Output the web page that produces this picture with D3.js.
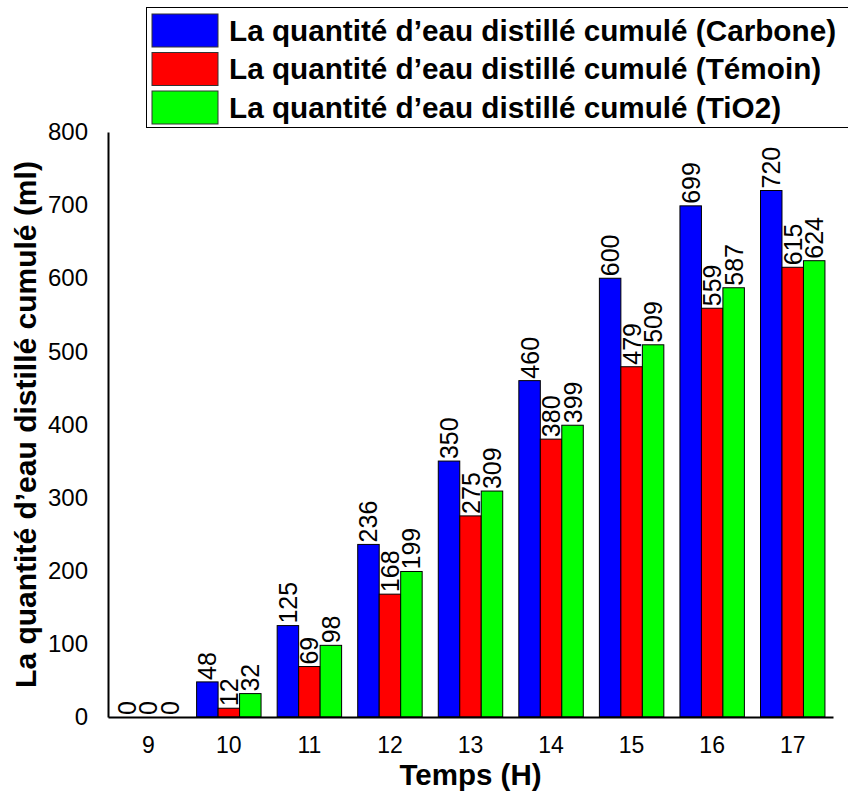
<!DOCTYPE html>
<html>
<head>
<meta charset="utf-8">
<script src="https://cdn.jsdelivr.net/npm/d3@7"></script>
<style>
  html, body { margin: 0; padding: 0; background: #fff; }
  svg { display: block; font-family: "Liberation Sans", Arial, sans-serif; }
</style>
</head>
<body>
<svg id="chart" width="848" height="792"></svg>
<script>
// Hours of the day (x categories)
const hours = ["9", "10", "11", "12", "13", "14", "15", "16", "17"];

// Cumulative distilled water (ml) for each configuration
const carbone = [0, 48, 125, 236, 350, 460, 600, 699, 720];
const temoin  = [0, 12, 69, 168, 275, 380, 479, 559, 615];
const tio2    = [0, 32, 98, 199, 309, 399, 509, 587, 624];

const seriesKeys = ["carbone", "temoin", "tio2"];
const seriesLabels = [
  "La quantité d’eau distillé cumulé (Carbone)",
  "La quantité d’eau distillé cumulé (Témoin)",
  "La quantité d’eau distillé cumulé (TiO2)"
];
const seriesColors = ["#0000ff", "#ff0000", "#00ff00"];
const yTicks = [0, 100, 200, 300, 400, 500, 600, 700, 800];

const table = hours.map((h, i) => ({
  hour: h,
  carbone: carbone[i],
  temoin: temoin[i],
  tio2: tio2[i]
}));

const svg = d3.select("#chart");
const plot = { left: 108, right: 833, top: 132, bottom: 717 };

const x = d3.scaleBand()
  .domain(hours)
  .range([plot.left, plot.right])
  .paddingInner(0.2)
  .paddingOuter(0.1);

const xSub = d3.scaleBand()
  .domain(seriesKeys)
  .range([0, x.bandwidth()]);

const y = d3.scaleLinear()
  .domain([0, 800])
  .range([plot.bottom, plot.top]);

const color = d3.scaleOrdinal().domain(seriesKeys).range(seriesColors);

// Bars
const groups = svg.append("g")
  .selectAll("g")
  .data(table)
  .join("g")
  .attr("transform", d => `translate(${x(d.hour)},0)`);

const cells = groups.selectAll("g")
  .data(d => seriesKeys.map(k => ({ key: k, value: d[k] })))
  .join("g");

cells.append("rect")
  .attr("x", d => xSub(d.key))
  .attr("y", d => y(d.value))
  .attr("width", xSub.bandwidth())
  .attr("height", d => y(0) - y(d.value))
  .attr("fill", d => color(d.key))
  .attr("stroke", "#000")
  .attr("stroke-width", 1);

// Value labels, rotated, sitting on top of each bar
cells.append("text")
  .attr("transform", d => {
    const cx = xSub(d.key) + xSub.bandwidth() / 2 + 9;
    const cy = y(d.value) - 2;
    return `translate(${cx},${cy}) rotate(-90)`;
  })
  .attr("text-anchor", "start")
  .attr("font-size", 25)
  .attr("fill", "#000")
  .text(d => d.value);

// Axes
const yAxis = d3.axisLeft(y).tickValues(yTicks).tickSize(0).tickPadding(20);
const gy = svg.append("g")
  .attr("transform", `translate(${plot.left},0)`)
  .call(yAxis);
gy.select(".domain").attr("stroke", "#000").attr("stroke-width", 2);
gy.selectAll("text").attr("font-size", 24).attr("fill", "#000")
  .attr("font-family", "Liberation Sans, Arial, sans-serif");

const xAxis = d3.axisBottom(x).tickSize(0).tickPadding(20);
const gx = svg.append("g")
  .attr("transform", `translate(0,${plot.bottom})`)
  .call(xAxis);
gx.select(".domain").attr("stroke", "#000").attr("stroke-width", 2);
gx.selectAll("text").attr("font-size", 23).attr("fill", "#000")
  .attr("font-family", "Liberation Sans, Arial, sans-serif");

// Axis titles
svg.append("text")
  .attr("x", (plot.left + plot.right) / 2)
  .attr("y", 785)
  .attr("text-anchor", "middle")
  .attr("font-size", 29.5)
  .attr("font-weight", "bold")
  .text("Temps (H)");

svg.append("text")
  .attr("transform", `translate(35.5,${(plot.top + plot.bottom) / 2}) rotate(-90)`)
  .attr("text-anchor", "middle")
  .attr("font-size", 30)
  .attr("font-weight", "bold")
  .text("La quantité d’eau distillé cumulé (ml)");

// Legend
const legend = svg.append("g");
legend.append("rect")
  .attr("x", 146.5).attr("y", 7.5)
  .attr("width", 710).attr("height", 120)
  .attr("fill", "#fff")
  .attr("stroke", "#000")
  .attr("stroke-width", 1);

const rows = legend.selectAll("g.row")
  .data(seriesKeys)
  .join("g")
  .attr("class", "row")
  .attr("transform", (d, i) => `translate(0,${14 + i * 38.5})`);

rows.append("rect")
  .attr("x", 152).attr("y", 0)
  .attr("width", 66).attr("height", 33)
  .attr("fill", d => color(d))
  .attr("stroke", "#333")
  .attr("stroke-width", 1);

rows.append("text")
  .attr("x", 229).attr("y", 26.5)
  .attr("font-size", 29.7)
  .attr("font-weight", "bold")
  .text((d, i) => seriesLabels[i]);
</script>
</body>
</html>
